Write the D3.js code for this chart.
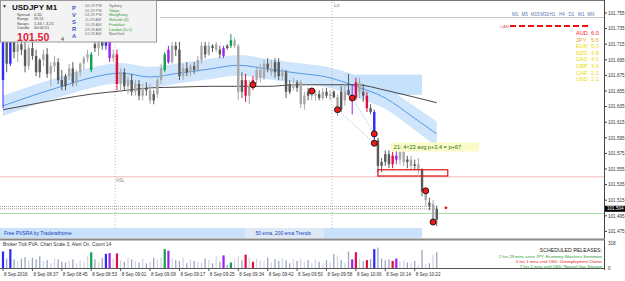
<!DOCTYPE html>
<html><head><meta charset="utf-8">
<script src="https://cdn.jsdelivr.net/npm/d3@7/dist/d3.min.js"></script>
<style>
body{margin:0;background:#fff;overflow:hidden}
svg{display:block}
text{font-family:"Liberation Sans","DejaVu Sans",Arial,sans-serif}
</style></head>
<body><svg id="chart" width="625" height="281"></svg>
<script>
// ---------- DATA ----------
const opens  =[101.669,101.718,101.690,101.723,101.705,101.715,101.708,101.687,101.710,101.700,101.679,101.695,101.702,101.677,101.687,101.692,101.669,101.661,101.674,101.684,101.666,101.679,101.690,101.697,101.682,101.715,101.710,101.720,101.713,101.720,101.697,101.702,101.664,101.679,101.661,101.669,101.654,101.664,101.649,101.659,101.656,101.643,101.651,101.669,101.682,101.708,101.692,101.713,101.708,101.674,101.684,101.679,101.687,101.682,101.695,101.713,101.702,101.713,101.715,101.708,101.700,101.710,101.713,101.720,101.713,101.654,101.669,101.649,101.661,101.669,101.682,101.672,101.690,101.684,101.679,101.692,101.674,101.679,101.654,101.664,101.659,101.666,101.638,101.649,101.654,101.649,101.651,101.646,101.654,101.649,101.654,101.647,101.631,101.654,101.656,101.650,101.646,101.666,101.654,101.649,101.633,101.628,101.592,101.559,101.564,101.574,101.561,101.572,101.567,101.577,101.564,101.567,101.559,101.561,101.554,101.526,101.508,101.510,101.490];
const highs  =[101.725,101.723,101.733,101.728,101.720,101.723,101.718,101.715,101.720,101.708,101.697,101.708,101.710,101.692,101.700,101.697,101.682,101.677,101.690,101.692,101.682,101.692,101.700,101.708,101.705,101.723,101.728,101.725,101.725,101.723,101.708,101.708,101.684,101.684,101.674,101.677,101.669,101.669,101.664,101.666,101.664,101.656,101.674,101.690,101.705,101.713,101.718,101.718,101.718,101.690,101.692,101.690,101.692,101.700,101.718,101.718,101.718,101.715,101.718,101.713,101.713,101.715,101.728,101.723,101.715,101.679,101.677,101.669,101.674,101.687,101.690,101.695,101.697,101.695,101.697,101.697,101.684,101.682,101.669,101.672,101.669,101.669,101.654,101.659,101.659,101.656,101.656,101.659,101.659,101.656,101.656,101.651,101.661,101.664,101.677,101.664,101.672,101.672,101.664,101.654,101.638,101.631,101.595,101.569,101.579,101.579,101.577,101.582,101.579,101.582,101.572,101.572,101.567,101.569,101.556,101.531,101.518,101.515,101.508];
const lows   =[101.633,101.679,101.687,101.697,101.692,101.701,101.679,101.682,101.695,101.674,101.672,101.687,101.672,101.661,101.679,101.664,101.656,101.656,101.669,101.661,101.661,101.674,101.682,101.692,101.679,101.705,101.700,101.708,101.708,101.692,101.692,101.656,101.654,101.656,101.651,101.649,101.649,101.643,101.643,101.649,101.638,101.638,101.646,101.664,101.679,101.690,101.690,101.700,101.669,101.669,101.674,101.674,101.677,101.679,101.690,101.697,101.700,101.705,101.705,101.697,101.697,101.708,101.710,101.710,101.643,101.646,101.641,101.638,101.656,101.664,101.666,101.669,101.679,101.674,101.672,101.669,101.669,101.646,101.651,101.656,101.654,101.633,101.631,101.643,101.643,101.643,101.643,101.643,101.646,101.643,101.646,101.623,101.628,101.636,101.649,101.625,101.643,101.646,101.641,101.628,101.625,101.586,101.551,101.551,101.559,101.556,101.556,101.561,101.561,101.559,101.556,101.554,101.554,101.549,101.520,101.508,101.502,101.485,101.482];
const closes =[101.718,101.690,101.723,101.705,101.715,101.708,101.687,101.710,101.700,101.679,101.695,101.702,101.677,101.687,101.692,101.669,101.661,101.674,101.684,101.666,101.679,101.690,101.697,101.702,101.702,101.710,101.720,101.713,101.720,101.697,101.702,101.664,101.679,101.661,101.669,101.654,101.664,101.649,101.659,101.656,101.643,101.651,101.669,101.684,101.702,101.692,101.713,101.708,101.674,101.684,101.679,101.687,101.682,101.695,101.713,101.702,101.713,101.710,101.708,101.702,101.710,101.713,101.720,101.713,101.654,101.669,101.649,101.661,101.669,101.682,101.672,101.690,101.684,101.679,101.692,101.674,101.679,101.654,101.664,101.659,101.666,101.638,101.649,101.654,101.649,101.651,101.646,101.654,101.649,101.651,101.647,101.631,101.654,101.643,101.650,101.646,101.666,101.654,101.649,101.633,101.628,101.602,101.559,101.564,101.574,101.561,101.572,101.567,101.577,101.564,101.567,101.559,101.561,101.554,101.526,101.515,101.512,101.490,101.504];
// PVSRA class: u = normal bull, d = normal bear, B = blue, G = green, P = violet, R = red
const candleClass="BdBdudduddduduuddduduuuuGdudBPuRudududududuuGPuddududuudududPdGuudRuRuuududdudduduuduudududududPRudRdBddddRPuudududududRduPG".split("");
const volumes=[210,120,240,110,90,120,140,100,130,110,150,90,100,60,120,110,80,70,90,110,60,100,80,150,200,110,80,130,180,190,120,185,100,80,130,110,90,70,120,60,80,130,110,140,240,220,120,100,90,130,60,110,90,80,70,120,100,60,150,80,160,40,70,110,150,100,170,130,80,120,100,90,130,70,110,90,120,100,60,110,90,120,80,100,70,110,80,60,100,70,180,160,100,70,210,110,200,120,90,100,110,240,260,120,100,110,90,120,80,100,70,60,90,40,230,50,60,170,200];
// EMA readings at sampled bars
const emaBars  =[0,8,16,24,32,40,48,56,64,72,80,88,96,104,112,118];
const ema50    =[101.636,101.649,101.661,101.672,101.678,101.673,101.678,101.683,101.688,101.683,101.678,101.673,101.661,101.646,101.620,101.600];
const ema200   =[101.631,101.638,101.645,101.651,101.655,101.659,101.660,101.661,101.661,101.661,101.663,101.663,101.663,101.656,101.647,101.640];
const emaBandHalf=[0.013,0.013,0.013,0.013,0.013,0.013,0.013,0.013,0.013,0.013,0.013,0.013,0.014,0.014,0.015,0.016];
// pivot markers
const markerBars  =[68,84,91,95,101,101,115,117];
const markerPrices=[101.663,101.655,101.631,101.646,101.600,101.588,101.527,101.487];
// axis ticks
const priceTicks=[101.755,101.735,101.715,101.695,101.675,101.655,101.635,101.615,101.595,101.575,101.555,101.535,101.515,101.495,101.475];
const timeTickBars=[0,8,16,24,32,40,48,56,64,72,80,88,96,104,112];
const timeTickLabels=["8 Sep 2016","8 Sep 08:37","8 Sep 08:45","8 Sep 08:53","8 Sep 09:01","8 Sep 09:09","8 Sep 09:17","8 Sep 09:25","8 Sep 09:34","8 Sep 09:42","8 Sep 09:50","8 Sep 09:58","8 Sep 10:06","8 Sep 10:14","8 Sep 10:22"];
const strengthNames=["AUD","JPY","EUR","NZD","CAD","GBP","CHF","USD"];
const strengthValues=["6.0","5.6","5.0","4.8","4.0","3.6","2.2","2.1"];
const timeframes=["M1","M5","M15","M30","H1","H4","D1","W1","MN"];
const cities=["Sydney","Tokyo","HongKong","Helsinki (0)","Frankfurt","London (0+1)","NewYork"];
const cityTimes=["06:29 PM","05:29 PM","04:29 PM","11:29 AM","10:29 AM","09:29 AM","04:29 AM"];
const releases=["2 hrs 29 mins since JPY: Economy Watchers Sentiment","6 hrs 1 mins until USD: Unemployment Claims","7 hrs 1 mins until USD: Natural Gas Storage"];
const bidPrice=101.504, askPrice=101.507, pinkLevel=101.545, greenLevel=101.498, topLevel=101.750;
const zone={b0:93,b1:114,p0:101.676,p1:101.650};
const redBox={b0:102,b1:121,p0:101.554,p1:101.546};
const sessionBars=[30.5,89.5];

// ---------- SCALES ----------
const svg=d3.select("#chart");
const W=625,H=281, plotR=604, volBase=268;
const x=d3.scaleLinear().domain([0,163.5]).range([3,plotR]);
const y=d3.scaleLinear().domain([101.755,101.475]).range([13,231.4]);
const v=d3.scaleLinear().domain([0,318]).range([volBase,243]);
const col={u:"#a8a8a8",d:"#5a5a5a",B:"#2b2bff",G:"#10a050",P:"#a020f0",R:"#e0103c"};
const vcol={u:"#d2d6df",d:"#9aa6bf",B:"#2b2bff",G:"#10a050",P:"#a020f0",R:"#e0103c"};

svg.append("rect").attr("width",W).attr("height",H).attr("fill","#fff");

const main=svg.append("g");
// EMA band
const bandPts=emaBars.map((b,i)=>({b,lo:ema50[i]-emaBandHalf[i],hi:ema50[i]+emaBandHalf[i]}));
main.append("path").datum(bandPts)
  .attr("d",d3.area().x(d=>x(d.b)).y0(d=>y(d.lo)).y1(d=>y(d.hi)).curve(d3.curveMonotoneX))
  .attr("fill","#cfe5fb");
// zone
main.append("rect").attr("x",x(zone.b0)).attr("width",x(zone.b1)-x(zone.b0))
  .attr("y",y(zone.p0)).attr("height",y(zone.p1)-y(zone.p0)).attr("fill","#c6e1fb");
// horizontal levels
main.append("line").attr("x1",160).attr("x2",plotR).attr("y1",Math.round(y(topLevel))+0.5).attr("y2",Math.round(y(topLevel))+0.5).attr("stroke","#c8c8c8").attr("stroke-width",1);
main.append("line").attr("x1",0).attr("x2",plotR).attr("y1",y(pinkLevel)).attr("y2",y(pinkLevel)).attr("stroke","#f4b8b8").attr("stroke-width",1);
main.append("line").attr("x1",0).attr("x2",plotR).attr("y1",y(greenLevel)).attr("y2",y(greenLevel)).attr("stroke","#a8dca8").attr("stroke-width",1);
[askPrice,bidPrice].forEach(p=>{
  main.append("line").attr("x1",0).attr("x2",x(118)).attr("y1",y(p)).attr("y2",y(p))
    .attr("stroke","#888").attr("stroke-width",0.8).attr("stroke-dasharray","1,1");
});
// session lines
sessionBars.forEach(b=>{
  main.append("line").attr("x1",x(b)).attr("x2",x(b)).attr("y1",2).attr("y2",230)
    .attr("stroke","#aaa").attr("stroke-width",0.8).attr("stroke-dasharray","1,2");
});
main.append("text").attr("x",x(sessionBars[1])+2).attr("y",7).attr("font-size",5).attr("fill","#888").text("Lo");
main.append("text").attr("x",x(sessionBars[0])+1).attr("y",182).attr("font-size",4.5).attr("fill","#888").text("ASL");

// EMA lines
const lineGen=d3.line().x(d=>x(d[0])).y(d=>y(d[1])).curve(d3.curveMonotoneX);
main.append("path").datum(emaBars.map((b,i)=>[b,ema50[i]])).attr("d",lineGen)
  .attr("fill","none").attr("stroke","#4a90e0").attr("stroke-width",0.9);
main.append("path").datum(emaBars.map((b,i)=>[b,ema200[i]])).attr("d",lineGen)
  .attr("fill","none").attr("stroke","#333").attr("stroke-width",0.9);

// candles
const bw=2.4;
const cg=main.append("g");
opens.forEach((o,i)=>{
  const c=closes[i], k=candleClass[i], cx=x(i);
  cg.append("line").attr("x1",cx).attr("x2",cx).attr("y1",y(highs[i])).attr("y2",y(lows[i]))
    .attr("stroke",col[k]).attr("stroke-width",1);
  const top=y(Math.max(o,c)), bot=y(Math.min(o,c));
  cg.append("rect").attr("x",cx-bw/2).attr("width",bw).attr("y",top).attr("height",Math.max(1,bot-top)).attr("fill",col[k]);
});

// dotted projection lines
main.append("line").attr("x1",x(markerBars[3])).attr("y1",y(markerPrices[3])).attr("x2",x(markerBars[4])).attr("y2",y(markerPrices[4]))
  .attr("stroke","#5b8fd8").attr("stroke-width",0.7).attr("stroke-dasharray","1,1.5");
main.append("line").attr("x1",x(markerBars[2])).attr("y1",y(markerPrices[2])).attr("x2",x(markerBars[5])).attr("y2",y(markerPrices[5]))
  .attr("stroke","#5b8fd8").attr("stroke-width",0.7).attr("stroke-dasharray","1,1.5");

// red box
main.append("rect").attr("x",x(redBox.b0)).attr("width",x(redBox.b1)-x(redBox.b0))
  .attr("y",y(redBox.p0)).attr("height",y(redBox.p1)-y(redBox.p0))
  .attr("fill","none").attr("stroke","#e01010").attr("stroke-width",1.2);

// markers
markerBars.forEach((b,i)=>{
  main.append("circle").attr("cx",x(b)).attr("cy",y(markerPrices[i])).attr("r",3)
    .attr("fill","#f01818").attr("stroke","#111").attr("stroke-width",0.9);
});
// current price dot
main.append("circle").attr("cx",x(120.5)).attr("cy",y(bidPrice)-1).attr("r",1.4).attr("fill","#e01010");

// yellow label
const lab=main.append("g").attr("transform",`translate(${x(105.5)},${y(101.589)})`);
lab.append("rect").attr("width",88).attr("height",9).attr("fill","#fbfbc8");
lab.append("text").attr("x",3).attr("y",6.6).attr("font-size",5.6).attr("fill","#207020")
  .attr("font-family","DejaVu Sans Mono, monospace").text("21: 4<23 avg p+3.4 = p+67");

// timeframes and CAN line
timeframes.forEach((t,i)=>{
  main.append("text").attr("x",512+i*9.4).attr("y",16).attr("font-size",4.5).attr("fill","#5578b0").text(t);
});
main.append("text").attr("x",500).attr("y",27.5).attr("font-size",4.2).attr("fill","#e05050").text("CAN");
main.append("line").attr("x1",510).attr("x2",591).attr("y1",26).attr("y2",26)
  .attr("stroke","#ee1111").attr("stroke-width",2.2).attr("stroke-dasharray","6,3");
// currency strength
const sCols=["#ff2020","#f0a020","#e8e000","#e8e000","#e8e000","#e8e000","#e8e000","#e8e000"];
strengthNames.forEach((n,i)=>{
  main.append("text").attr("x",576).attr("y",35+i*6.6).attr("font-size",5.6).attr("fill",sCols[i]).text(n);
  main.append("text").attr("x",591).attr("y",35+i*6.6).attr("font-size",5.6).attr("fill",sCols[i]).text(strengthValues[i]);
});

// bottom info band
svg.append("rect").attr("x",0).attr("y",228).attr("width",x(114)).attr("height",10).attr("fill","#c9e1fa");
svg.append("rect").attr("x",245).attr("y",228).attr("width",79).attr("height",10).attr("fill","#dde9f7");
svg.append("text").attr("x",4).attr("y",235).attr("font-size",5).attr("fill","#2040c0").text("Free PVSRA by Traderathome");
svg.append("text").attr("x",311).attr("y",235).attr("font-size",5).attr("text-anchor","end").attr("fill","#2040c0").text("50 ema, 200 ema Trends");

// price axis
svg.append("line").attr("x1",plotR+0.5).attr("x2",plotR+0.5).attr("y1",0).attr("y2",270).attr("stroke","#444").attr("stroke-width",1);
svg.append("line").attr("x1",0).attr("x2",plotR).attr("y1",0.5).attr("y2",0.5).attr("stroke","#777");
priceTicks.forEach(p=>{
  svg.append("line").attr("x1",plotR).attr("x2",plotR+3).attr("y1",y(p)).attr("y2",y(p)).attr("stroke","#444");
  svg.append("text").attr("x",plotR+4).attr("y",y(p)+1.7).attr("font-size",4.6).attr("fill","#333").text(p.toFixed(3));
});
svg.append("rect").attr("x",plotR+1).attr("y",y(bidPrice)-3).attr("width",20).attr("height",6).attr("fill","#000");
svg.append("text").attr("x",plotR+3).attr("y",y(bidPrice)+1.7).attr("font-size",4.6).attr("fill","#fff").text(bidPrice.toFixed(3));

// separator
svg.append("rect").attr("x",0).attr("y",238.5).attr("width",plotR+1).attr("height",2).attr("fill","#888");

// volume panel
svg.append("text").attr("x",3).attr("y",246).attr("font-size",4.8).attr("fill","#333")
  .text("Broker Tick PVA:   Chart Scale  3,  Alert On,  Count  14");
volumes.forEach((vv,i)=>{
  const k=candleClass[i]; const w=(k==="u"||k==="d")?1.3:2.2;
  svg.append("rect").attr("x",x(i)-w/2).attr("width",w).attr("y",v(vv)).attr("height",volBase-v(vv)).attr("fill",vcol[k]);
});
svg.append("line").attr("x1",0).attr("x2",plotR).attr("y1",volBase+0.5).attr("y2",volBase+0.5).attr("stroke","#555");
svg.append("text").attr("x",plotR+4).attr("y",245).attr("font-size",4.6).attr("fill","#333").text("318");
svg.append("text").attr("x",plotR+4).attr("y",270).attr("font-size",4.6).attr("fill","#333").text("0");
// releases
svg.append("text").attr("x",602).attr("y",252).attr("font-size",5.2).attr("text-anchor","end").attr("fill","#222").text("SCHEDULED RELEASES:");
const relCols=["#1a9a30","#e02020","#1a9a30"];
releases.forEach((r,i)=>{
  svg.append("text").attr("x",602).attr("y",257.5+i*5).attr("font-size",4.2).attr("text-anchor","end").attr("fill",relCols[i]).text(r);
});

// time axis
timeTickBars.forEach((b,i)=>{
  svg.append("line").attr("x1",x(b)).attr("x2",x(b)).attr("y1",volBase).attr("y2",volBase+3).attr("stroke","#555");
  svg.append("text").attr("x",x(b)+1).attr("y",276).attr("font-size",4.6).attr("fill","#333").text(timeTickLabels[i]);
});

// info panel
const ip=svg.append("g");
ip.append("rect").attr("x",0.5).attr("y",0.5).attr("width",156).attr("height",41.5).attr("fill","#f3f3f3").attr("stroke","#999");
ip.append("text").attr("x",2).attr("y",8).attr("font-size",5).attr("fill","#333").text("▼");
ip.append("text").attr("x",12).attr("y",9.8).attr("font-size",8).attr("font-weight","bold").attr("fill","#111").text("USDJPY  M1");
[["Spread","0.30"],["Range","95.51"],["Swaps","1.43 / -3.25"],["Candle","00:00:51"]].forEach((r,i)=>{
  ip.append("text").attr("x",17).attr("y",16+i*4.4).attr("font-size",3.9).attr("fill","#444").text(r[0]);
  ip.append("text").attr("x",34).attr("y",16+i*4.4).attr("font-size",3.9).attr("fill","#444").text(r[1]);
});
ip.append("text").attr("x",17).attr("y",41).attr("font-size",10.6).attr("font-weight","bold").attr("fill","#e0203c").text("101.50");
ip.append("text").attr("x",61).attr("y",41).attr("font-size",5.5).attr("fill","#333").text("4");
"PVSRA".split("").forEach((ch,i)=>{
  ip.append("text").attr("x",74).attr("y",10+i*6.9).attr("font-size",5.8).attr("font-weight","bold").attr("text-anchor","middle").attr("fill","#3355cc").text(ch);
});
const cityCols=["#666","#2a9a2a","#2a9a2a","#2a9a2a","#2a9a2a","#2a9a2a","#666"];
cities.forEach((c,i)=>{
  ip.append("text").attr("x",85).attr("y",7+i*4.7).attr("font-size",3.9).attr("fill","#777").text(cityTimes[i]);
  ip.append("text").attr("x",109).attr("y",7+i*4.7).attr("font-size",3.9).attr("fill",cityCols[i]).text(c);
});
</script></body></html>
